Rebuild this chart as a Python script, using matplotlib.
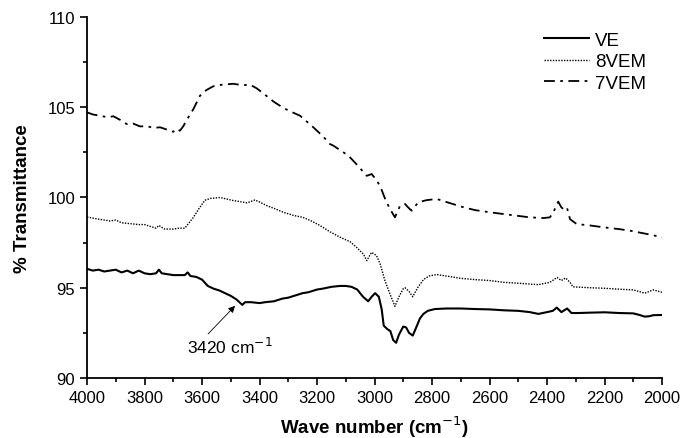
import matplotlib.pyplot as plt
from matplotlib.ticker import MultipleLocator

plt.rcParams['font.family'] = ['Liberation Sans', 'DejaVu Sans']

# VE (solid)
ve_x = [4000, 3980, 3960, 3940, 3920, 3900, 3880, 3860, 3840, 3820, 3800, 3780, 3760, 3750, 3740,
        3720, 3700, 3680, 3660, 3650, 3640, 3620, 3600, 3580, 3560, 3540, 3520, 3500, 3480, 3460,
        3450, 3430, 3400, 3380, 3350, 3320, 3300, 3280, 3250, 3230, 3200, 3180, 3150, 3120, 3100,
        3080, 3060, 3040, 3022, 3010, 2998, 2985, 2975, 2968, 2955, 2945, 2935, 2925, 2915, 2900,
        2890, 2880, 2867, 2855, 2842, 2830, 2815, 2790, 2750, 2700, 2650, 2600, 2550, 2500, 2460,
        2430, 2400, 2380, 2366, 2350, 2340, 2330, 2315, 2290, 2250, 2200, 2150, 2100, 2080, 2060,
        2045, 2030, 2000]
ve_y = [96.05, 95.95, 96.0, 95.9, 95.95, 96.0, 95.85, 95.95, 95.8, 95.95, 95.8, 95.75, 95.8, 96.0, 95.8,
        95.75, 95.7, 95.7, 95.7, 95.85, 95.65, 95.6, 95.45, 95.1, 94.95, 94.85, 94.7, 94.55, 94.35, 94.05,
        94.2, 94.2, 94.15, 94.2, 94.25, 94.4, 94.45, 94.55, 94.7, 94.75, 94.9, 94.95, 95.05, 95.1, 95.1,
        95.05, 94.9, 94.5, 94.25, 94.5, 94.7, 94.5, 93.8, 92.9, 92.7, 92.6, 92.1, 91.95, 92.4, 92.85,
        92.8, 92.5, 92.35, 92.8, 93.3, 93.55, 93.72, 93.82, 93.85, 93.85, 93.82, 93.8, 93.75, 93.72, 93.65,
        93.55, 93.65, 93.72, 93.9, 93.65, 93.75, 93.85, 93.6, 93.6, 93.62, 93.64, 93.6, 93.58, 93.5, 93.4,
        93.42, 93.48, 93.49]

# 8VEM (dotted)
vem8_x = [4000, 3960, 3920, 3900, 3880, 3850, 3820, 3800, 3780, 3760, 3750, 3730, 3700, 3680, 3660,
          3645, 3630, 3610, 3590, 3570, 3537, 3510, 3491, 3460, 3444, 3416, 3400, 3375, 3350, 3317,
          3280, 3249, 3220, 3190, 3155, 3120, 3085, 3060, 3039, 3027, 3018, 3010, 2993, 2980, 2964,
          2945, 2929, 2915, 2900, 2894, 2880, 2867, 2850, 2830, 2810, 2784, 2750, 2700, 2650, 2600,
          2550, 2500, 2430, 2390, 2365, 2350, 2335, 2320, 2310, 2250, 2200, 2150, 2100, 2060, 2030,
          2000]
vem8_y = [98.92, 98.8, 98.7, 98.75, 98.6, 98.55, 98.5, 98.5, 98.4, 98.3, 98.45, 98.25, 98.25, 98.3, 98.3,
          98.6, 98.9, 99.4, 99.85, 99.95, 100.0, 99.9, 99.83, 99.75, 99.7, 99.86, 99.75, 99.55, 99.4, 99.18,
          99.0, 98.9, 98.7, 98.45, 98.1, 97.8, 97.55, 97.2, 96.87, 96.5, 96.75, 96.96, 96.78, 96.3, 95.4,
          94.6, 93.97, 94.5, 94.95, 95.0, 94.8, 94.5, 95.0, 95.45, 95.65, 95.73, 95.65, 95.52, 95.45, 95.4,
          95.3, 95.25, 95.17, 95.3, 95.57, 95.4, 95.54, 95.3, 95.05, 95.0, 94.97, 94.92, 94.88, 94.7, 94.88,
          94.75]

# 7VEM (dash-dot)
vem7_x = [4000, 3980, 3955, 3930, 3908, 3885, 3862, 3840, 3816, 3790, 3770, 3746, 3720, 3700, 3690,
          3677, 3665, 3653, 3630, 3607, 3585, 3561, 3530, 3491, 3460, 3433, 3410, 3387, 3350, 3317,
          3290, 3259, 3235, 3213, 3180, 3155, 3143, 3108, 3091, 3060, 3027, 3010, 2995, 2981, 2960,
          2946, 2929, 2911, 2900, 2894, 2880, 2871, 2848, 2820, 2784, 2740, 2691, 2650, 2598, 2550,
          2505, 2460, 2413, 2390, 2378, 2361, 2350, 2343, 2331, 2320, 2297, 2250, 2204, 2150, 2111,
          2053, 2000]
vem7_y = [104.72, 104.6, 104.53, 104.45, 104.5, 104.3, 104.07, 104.1, 103.94, 103.95, 103.85, 103.89, 103.75, 103.64, 103.8,
          103.7, 103.95, 104.3, 104.9, 105.64, 105.95, 106.16, 106.25, 106.3, 106.22, 106.25, 106.05, 105.77, 105.3, 104.96,
          104.75, 104.53, 104.2, 103.89, 103.4, 102.96, 102.87, 102.5, 102.32, 101.8, 101.2, 101.3, 101.0, 100.65, 99.8,
          99.36, 98.9, 99.55, 99.6, 99.64, 99.4, 99.27, 99.73, 99.85, 99.92, 99.7, 99.46, 99.3, 99.18, 99.08,
          98.99, 98.9, 98.86, 98.9, 99.18, 99.77, 99.45, 99.36, 99.46, 98.8, 98.53, 98.45, 98.35, 98.25, 98.16,
          97.98, 97.8]

fig = plt.figure(figsize=(6.82, 4.39), dpi=100)
ax = fig.add_axes([0.1276, 0.1367, 0.8431, 0.8223])

ax.plot(ve_x, ve_y, color='black', lw=1.5, label='VE')
ax.plot(vem8_x, vem8_y, color='black', lw=1.0, linestyle=(0, (1, 1)), label='8VEM')
ax.plot(vem7_x, vem7_y, color='black', lw=1.3, linestyle=(0, (6, 3, 1.5, 3)), label='7VEM')

ax.set_xlim(4000, 2000)
ax.set_ylim(90, 110)
ax.xaxis.set_major_locator(MultipleLocator(200))
ax.xaxis.set_minor_locator(MultipleLocator(100))
ax.yaxis.set_major_locator(MultipleLocator(5))
ax.yaxis.set_minor_locator(MultipleLocator(2.5))
ax.tick_params(which='major', direction='out', length=5, width=1.2, labelsize=12)
ax.tick_params(which='minor', direction='out', length=3, width=1.2)
for s in ['top', 'right']:
    ax.spines[s].set_visible(False)
for s in ['left', 'bottom']:
    ax.spines[s].set_linewidth(1.3)

ax.set_xlabel('Wave number (cm$^{-1}$)', fontsize=13.5, fontweight='bold', labelpad=6)
ax.set_ylabel('% Transmittance', fontsize=13.5, fontweight='bold', labelpad=12)

# annotation: arrow and label drawn separately
ax.annotate('', xy=(3485, 94.0), xytext=(3579, 92.44),
            arrowprops=dict(arrowstyle='-|>', color='black', lw=0.6, mutation_scale=10,
                            shrinkA=0, shrinkB=0))
ax.text(3504, 91.75, '3420 cm$^{-1}$', ha='center', va='center', fontsize=12.5)

ax.legend(loc='upper right', bbox_to_anchor=(0.995, 0.995), frameon=False, fontsize=13.5,
          handlelength=2.4, handletextpad=0.3, labelspacing=0.23, borderpad=0.2)

fig.savefig('out.png', dpi=100)
